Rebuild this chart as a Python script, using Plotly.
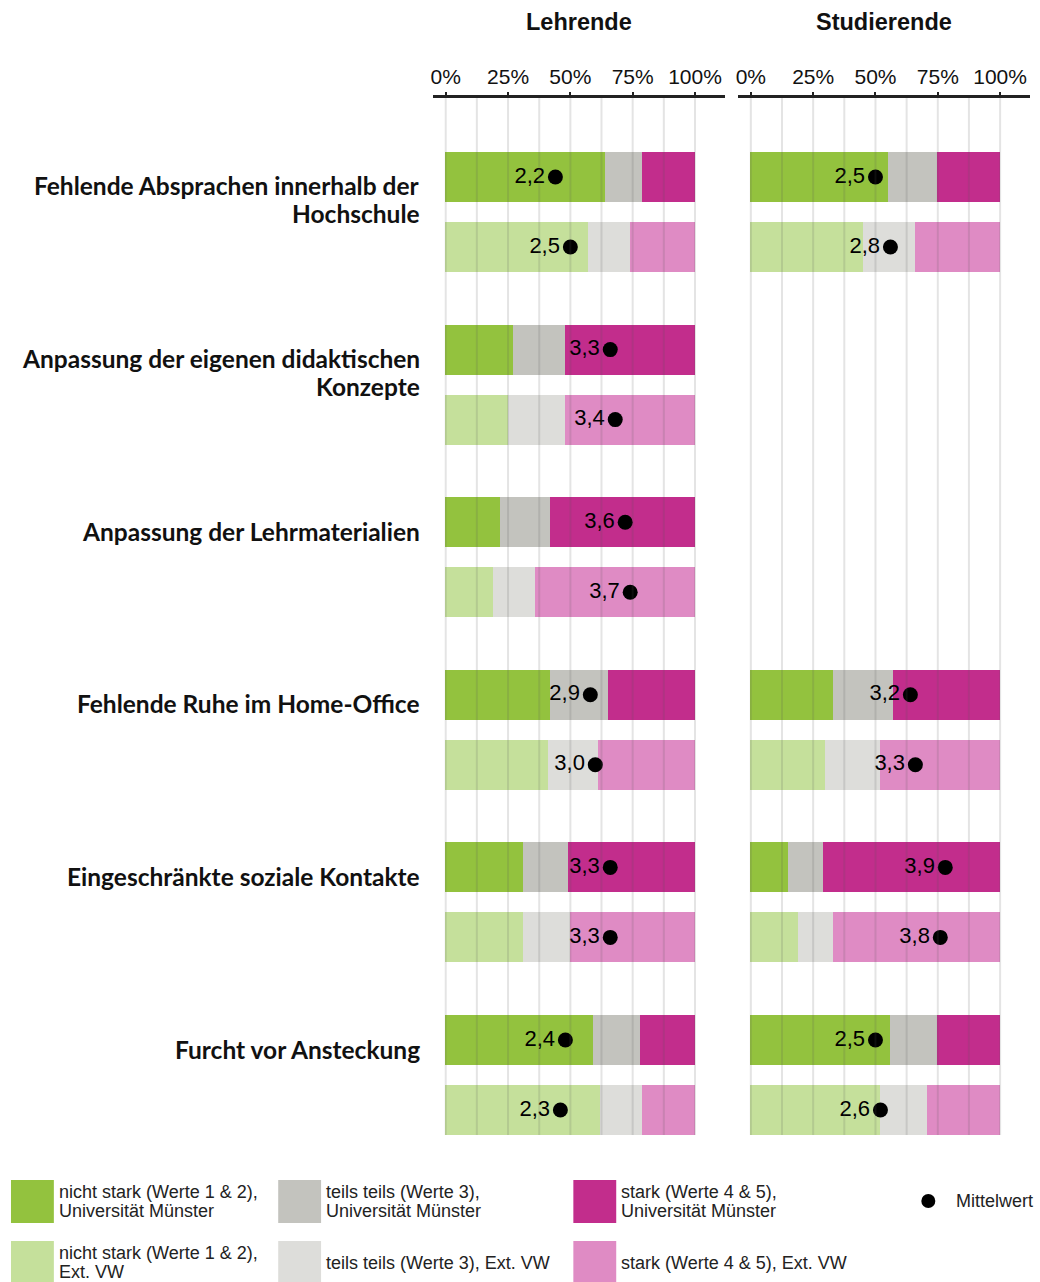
import plotly.graph_objects as go

categories = [
    "Fehlende Absprachen innerhalb der<br>Hochschule",
    "Anpassung der eigenen didaktischen<br>Konzepte",
    "Anpassung der Lehrmaterialien",
    "Fehlende Ruhe im Home-Office",
    "Eingeschränkte soziale Kontakte",
    "Furcht vor Ansteckung",
]
tick_vals = [0, 25, 50, 75, 100]
tick_text = ["0%", "25%", "50%", "75%", "100%"]
grid_vals = [0, 12.5, 25, 37.5, 50, 62.5, 75, 87.5, 100]

# shares in % (nicht stark / teils teils / stark)
lehr_uni_nicht = [64, 27, 22, 42, 31, 59]
lehr_uni_teils = [15, 21, 20, 23, 18, 19]
lehr_uni_stark = [21, 52, 58, 35, 51, 22]
lehr_ext_nicht = [57, 25, 19, 41, 31, 62]
lehr_ext_teils = [17, 23, 17, 20, 19, 17]
lehr_ext_stark = [26, 52, 64, 39, 50, 21]

stud_uni_nicht = [55, None, None, 33, 15, 56]
stud_uni_teils = [20, None, None, 24, 14, 19]
stud_uni_stark = [25, None, None, 43, 71, 25]
stud_ext_nicht = [45, None, None, 30, 19, 52]
stud_ext_teils = [21, None, None, 22, 14, 19]
stud_ext_stark = [34, None, None, 48, 67, 29]

# means on a 1-5 scale
lehr_uni_mean = [2.2, 3.3, 3.6, 2.9, 3.3, 2.4]
lehr_ext_mean = [2.5, 3.4, 3.7, 3.0, 3.3, 2.3]
stud_uni_mean = [2.5, None, None, 3.2, 3.9, 2.5]
stud_ext_mean = [2.8, None, None, 3.3, 3.8, 2.6]

legend_labels = [
    "nicht stark (Werte 1 & 2),<br>Universität Münster",
    "teils teils (Werte 3),<br>Universität Münster",
    "stark (Werte 4 & 5),<br>Universität Münster",
    "nicht stark (Werte 1 & 2),<br>Ext. VW",
    "teils teils (Werte 3), Ext. VW",
    "stark (Werte 4 & 5), Ext. VW",
]

COLORS_UNI = ["#93c23e", "#c3c3be", "#c22d8c"]
COLORS_EXT = ["#c5e09b", "#ddddda", "#df8bc4"]

W, H = 1040, 1282
PX = 70  # pixels per y unit
GAP = 172.6 / PX  # distance between groups
BAR_W = 50 / PX
TEXT_FONT = "Arial, Liberation Sans, sans-serif"
LABEL_FONT = "Lato, Open Sans, sans-serif"

ypos_uni = [g * GAP for g in range(len(categories))]
ypos_ext = [g * GAP + 1 for g in range(len(categories))]

panels = [
    ("x", "Lehrende",
     [lehr_uni_nicht, lehr_uni_teils, lehr_uni_stark],
     [lehr_ext_nicht, lehr_ext_teils, lehr_ext_stark],
     lehr_uni_mean, lehr_ext_mean),
    ("x2", "Studierende",
     [stud_uni_nicht, stud_uni_teils, stud_uni_stark],
     [stud_ext_nicht, stud_ext_teils, stud_ext_stark],
     stud_uni_mean, stud_ext_mean),
]

fig = go.Figure()

for xref, title, uni, ext, m_uni, m_ext in panels:
    for segs, ypos, colors in ((uni, ypos_uni, COLORS_UNI), (ext, ypos_ext, COLORS_EXT)):
        for vals, col in zip(segs, colors):
            fig.add_trace(go.Bar(
                x=vals, y=ypos, orientation="h", width=BAR_W,
                marker=dict(color=col, line=dict(width=0)),
                xaxis=xref, yaxis="y", showlegend=False, hoverinfo="skip",
            ))
    for means, ypos in ((m_uni, ypos_uni), (m_ext, ypos_ext)):
        xs, ys, txt = [], [], []
        for m, yp in zip(means, ypos):
            if m is None:
                continue
            xs.append(m / 5 * 100)
            ys.append(yp)
            txt.append(f"{m:.1f}".replace(".", ","))
        fig.add_trace(go.Scatter(
            x=xs, y=ys, mode="markers+text", text=txt,
            textposition="middle left",
            textfont=dict(family=TEXT_FONT, size=22, color="black"),
            marker=dict(color="black", size=15),
            xaxis=xref, yaxis="y", showlegend=False, hoverinfo="skip",
        ))

# translucent grid lines drawn over the bars
shapes = []
for xref in ("x", "x2"):
    for gv in grid_vals:
        shapes.append(dict(type="line", xref=xref, yref="y domain",
                           x0=gv, x1=gv, y0=0, y1=1, layer="above",
                           line=dict(color="rgba(90,90,90,0.16)", width=2)))

# custom legend
annotations = []
sw = 43
col_x = [8, 276, 572]
row_y = [1180, 1241]
all_colors = COLORS_UNI + COLORS_EXT
for i, (lab, col) in enumerate(zip(legend_labels, all_colors)):
    cx = col_x[i % 3]
    ry = row_y[i // 3]
    shapes.append(dict(type="rect", xref="paper", yref="paper",
                       x0=cx / W, x1=(cx + sw) / W,
                       y0=1 - (ry + sw) / H, y1=1 - ry / H,
                       fillcolor=col, line=dict(width=0)))
    lines = lab.split("<br>")
    for k, line in enumerate(lines):
        off = (k - (len(lines) - 1) / 2) * 19
        annotations.append(dict(xref="paper", yref="paper", x=(cx + 46) / W,
                                y=1 - (ry + sw / 2 + off) / H,
                                xanchor="left", yanchor="middle",
                                text=line, showarrow=False, align="left",
                                font=dict(family=TEXT_FONT, size=18, color="#222")))
shapes.append(dict(type="circle", xref="paper", yref="paper",
                   x0=921 / W, x1=935 / W, y0=1 - 1208 / H, y1=1 - 1194 / H,
                   fillcolor="black", line=dict(width=0)))
annotations.append(dict(xref="paper", yref="paper", x=954 / W, y=1 - 1201 / H,
                        xanchor="left", yanchor="middle", text="Mittelwert",
                        showarrow=False, font=dict(family=TEXT_FONT, size=18, color="#222")))

# category labels, one annotation per line
for g, cat in enumerate(categories):
    for k, line in enumerate(cat.split("<br>")):
        annotations.append(dict(xref="paper", yref="y", x=420 / W,
                                y=ypos_uni[g] + (9 + 28 * k) / PX,
                                xanchor="right", yanchor="middle", text=f"<b>{line}</b>",
                                showarrow=False, align="right",
                                font=dict(family=LABEL_FONT, size=24.5, color="#111")))

x_domains = [(431.5 / W, 724 / W), (737.5 / W, 1030 / W)]
for (x0, x1), panel in zip(x_domains, panels):
    annotations.append(dict(xref="paper", yref="paper", x=(x0 + x1) / 2, y=1 - 22 / H,
                            xanchor="center", yanchor="middle", text=f"<b>{panel[1]}</b>",
                            showarrow=False, font=dict(family=TEXT_FONT, size=23.5, color="#111")))

axis_common = dict(
    range=[-5, 112], side="top", anchor="y",
    tickmode="array", tickvals=tick_vals, ticktext=tick_text,
    tickfont=dict(family=TEXT_FONT, size=21, color="#111"),
    showgrid=False, zeroline=False,
    showline=True, linecolor="#222", linewidth=3,
    ticks="outside", ticklen=3, tickwidth=2, tickcolor="#222",
    fixedrange=True,
)

y_bottom = ypos_ext[-1] + 25 / PX
y_top = -79 / PX

fig.update_layout(
    width=W, height=H, autosize=False,
    margin=dict(l=0, r=0, t=0, b=0),
    paper_bgcolor="white", plot_bgcolor="white",
    barmode="stack", bargap=0,
    xaxis=dict(domain=list(x_domains[0]), **axis_common),
    xaxis2=dict(domain=list(x_domains[1]), **axis_common),
    yaxis=dict(domain=[1 - 1135 / H, 1 - 98 / H], range=[y_bottom, y_top],
               showticklabels=False, showgrid=False, zeroline=False, showline=False,
               fixedrange=True),
    shapes=shapes,
    annotations=annotations,
)

# drop the default body margin so the figure fills the window exactly
fig.write_html("out.html", config={"displayModeBar": False},
               post_script="document.body.style.margin='0';")
